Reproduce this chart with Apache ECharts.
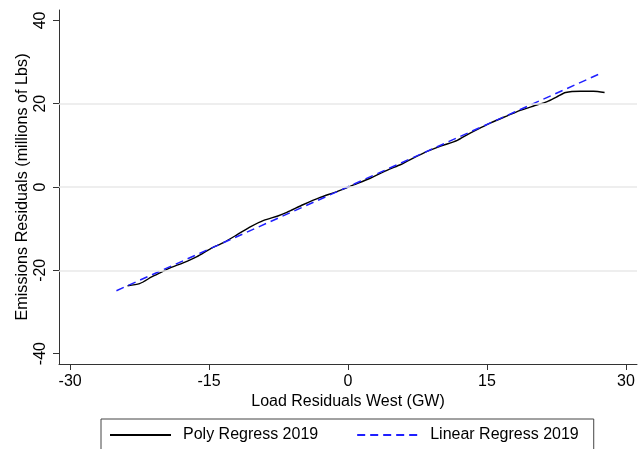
<!DOCTYPE html>
<html><head><meta charset="utf-8">
<script src="https://cdn.jsdelivr.net/npm/echarts@6/dist/echarts.min.js"></script>
<style>html,body{margin:0;padding:0;background:#fff}#c{width:643px;height:449px}</style>
</head><body><div id="c"></div>
<script>
const xTicks = [-30, -15, 0, 15, 30];
const yTicks = [-40, -20, 0, 20, 40];
const yGrid = [-20, 0, 20];
const polyX = [-23.8, -22.5, -21.2, -20.3, -19.2, -17.8, -16.3, -14.9, -13.4, -12.0, -10.5, -9.1, -7.5, -6.6, -4.8, -3.0, -1.2, 0.6, 2.4, 4.2, 5.7, 6.4, 8.2, 10.0, 11.8, 12.9, 14.3, 15.4, 17.2, 18.6, 20.1, 21.5, 22.5, 23.5, 25.1, 26.5, 27.7];
const polyY = [-23.7, -23.2, -21.6, -20.6, -19.4, -18.2, -16.7, -14.9, -13.3, -11.5, -9.5, -8.0, -6.9, -6.1, -4.2, -2.5, -1.1, 0.5, 2.1, 4.0, 5.4, 6.2, 8.2, 9.8, 11.2, 12.6, 14.2, 15.4, 17.1, 18.4, 19.5, 20.5, 21.6, 22.7, 23.0, 23.0, 22.7];
const linX = [-25.0, 27.1];
const linY = [-24.9, 27.1];
const seriesNames = ['Poly Regress 2019', 'Linear Regress 2019'];

const font = '"Liberation Sans", Arial, Helvetica, sans-serif';
const chart = echarts.init(document.getElementById('c'), null, {renderer: 'canvas'});
const zip = (a, b) => a.map((v, i) => [v, b[i]]);
chart.setOption({
  animation: false,
  backgroundColor: '#fff',
  textStyle: {fontFamily: font, color: '#000'},
  grid: {left: 59, right: 6, top: 10, bottom: 85},
  xAxis: {
    type: 'value', min: -31.2, max: 31.2,
    name: 'Load Residuals West (GW)', nameLocation: 'middle', nameGap: 30, nameMoveOverlap: false,
    nameTextStyle: {fontSize: 16, color: '#000', fontFamily: font},
    axisLine: {show: true, onZero: false, lineStyle: {color: '#333', width: 1}},
    axisTick: {show: true, length: 6, customValues: xTicks, lineStyle: {color: '#333'}},
    axisLabel: {customValues: xTicks, fontSize: 16, color: '#000', margin: 10, fontFamily: font},
    splitLine: {show: false}
  },
  yAxis: {
    type: 'value', min: -42.5, max: 42.5,
    name: 'Emissions Residuals (millions of Lbs)', nameLocation: 'middle', nameGap: 28, nameRotate: 90, nameMoveOverlap: false,
    nameTextStyle: {fontSize: 16.2, color: '#000', fontFamily: font},
    axisLine: {show: true, onZero: false, lineStyle: {color: '#333', width: 1}},
    axisTick: {show: true, length: 6, customValues: yTicks, lineStyle: {color: '#333'}},
    axisLabel: {customValues: yTicks, fontSize: 16, color: '#000', margin: 10, rotate: 90, fontFamily: font},
    splitLine: {show: false}
  },
  legend: {
    data: seriesNames,
    left: 101, top: 419,
    padding: [8, 15, 20, 8],
    itemGap: 38,
    itemWidth: 61, itemHeight: 14,
    itemStyle: {opacity: 0},
    borderColor: '#444', borderWidth: 1, borderRadius: 0,
    textStyle: {fontSize: 16, color: '#000', fontFamily: font, padding: [0, 0, 0, 7]}
  },
  series: [
    {
      name: 'gridlines', type: 'line', data: [], silent: true,
      markLine: {
        silent: true, symbol: ['none', 'none'], label: {show: false},
        lineStyle: {color: '#e8e8e8', type: 'solid', width: 1.5},
        data: yGrid.map(v => ({yAxis: v}))
      }
    },
    {
      name: seriesNames[0], type: 'line', data: zip(polyX, polyY),
      showSymbol: false, symbol: 'none', smooth: 0.25,
      lineStyle: {color: '#000', width: 1.4}, itemStyle: {color: '#000'}
    },
    {
      name: seriesNames[1], type: 'line', data: zip(linX, linY),
      showSymbol: false, symbol: 'none',
      lineStyle: {color: '#1f1fff', width: 1.5, type: [8, 5]}, itemStyle: {color: '#1f1fff'}
    }
  ]
});
</script></body></html>
